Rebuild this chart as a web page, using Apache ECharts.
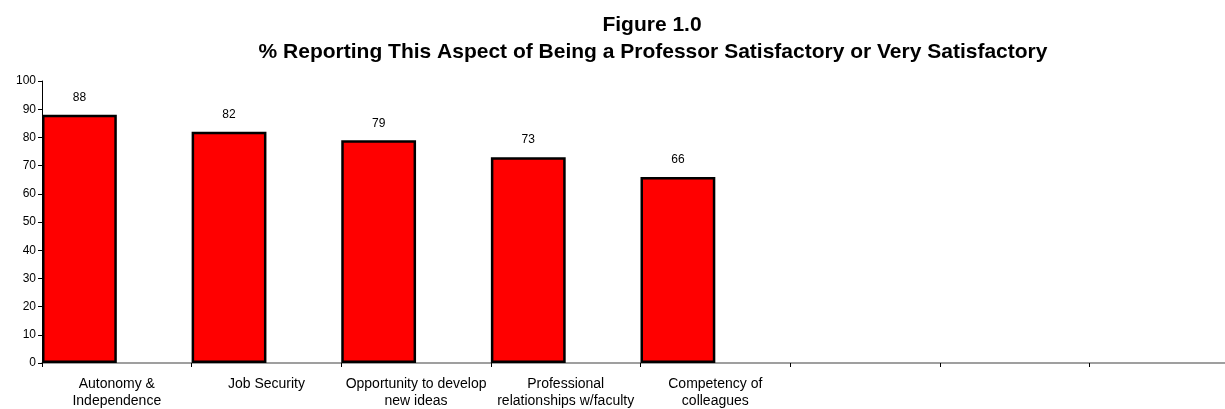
<!DOCTYPE html>
<html>
<head>
<meta charset="utf-8">
<script src="https://cdn.jsdelivr.net/npm/echarts@6/dist/echarts.min.js"></script>
<style>
  html, body { margin: 0; padding: 0; background: #fff; }
  #chart { width: 1225px; height: 409px; }
</style>
</head>
<body>
<div id="chart"></div>
<script>
// Satisfaction categories (trailing blanks keep the empty slots on the axis)
const categories = [
  'Autonomy &\nIndependence',
  'Job Security',
  'Opportunity to develop\nnew ideas',
  'Professional\nrelationships w/faculty',
  'Competency of\ncolleagues',
  '', '', ''
];
// Percent reporting satisfactory or very satisfactory
const percentSatisfied = [88, 82, 79, 73, 66, null, null, null];
const yTicks = { min: 0, max: 100, interval: 10 };
const titleLine1 = 'Figure 1.0';
const titleLine2 = '% Reporting This Aspect of Being a Professor Satisfactory or Very Satisfactory';

const FONT = 'Arial, "Liberation Sans", sans-serif';
const chart = echarts.init(document.getElementById('chart'), null, { renderer: 'canvas' });

chart.setOption({
  animation: false,
  backgroundColor: '#ffffff',
  title: [
    {
      text: titleLine1, left: 647, top: 10, textAlign: 'center',
      textStyle: { fontFamily: FONT, fontSize: 21, fontWeight: 'bold', color: '#000' }
    },
    {
      text: titleLine2, left: 648, top: 37, textAlign: 'center',
      textStyle: { fontFamily: FONT, fontSize: 21, fontWeight: 'bold', color: '#000' }
    }
  ],
  grid: {
    left: 42, top: 81, width: 1197, height: 282,
    outerBoundsMode: 'none', containLabel: false
  },
  xAxis: {
    type: 'category',
    data: categories,
    boundaryGap: true,
    axisLine: { lineStyle: { color: '#808080', width: 1.5 } },
    axisTick: { show: true, length: 4, lineStyle: { color: '#000' } },
    axisLabel: {
      interval: 0, margin: 13, lineHeight: 17,
      fontFamily: FONT, fontSize: 14, color: '#000', align: 'center'
    },
    splitLine: { show: false }
  },
  yAxis: {
    type: 'value',
    min: yTicks.min, max: yTicks.max, interval: yTicks.interval,
    axisLine: { show: true, lineStyle: { color: '#000', width: 1 } },
    axisTick: { show: true, length: 4, lineStyle: { color: '#000' } },
    axisLabel: { fontFamily: FONT, fontSize: 12, color: '#000', margin: 6 },
    splitLine: { show: false }
  },
  series: [
    {
      type: 'bar',
      data: percentSatisfied,
      barGap: '0%',
      barCategoryGap: '0%',
      itemStyle: { color: '#ff0000', borderColor: '#000', borderWidth: 2.5 },
      label: {
        show: true, position: 'top', distance: 11,
        fontFamily: FONT, fontSize: 12, color: '#000'
      }
    },
    {
      // spacer series that leaves the right half of each slot empty
      type: 'bar',
      data: categories.map(() => null),
      barGap: '0%',
      barCategoryGap: '0%',
      itemStyle: { color: 'transparent' },
      silent: true
    }
  ]
});
</script>
</body>
</html>
